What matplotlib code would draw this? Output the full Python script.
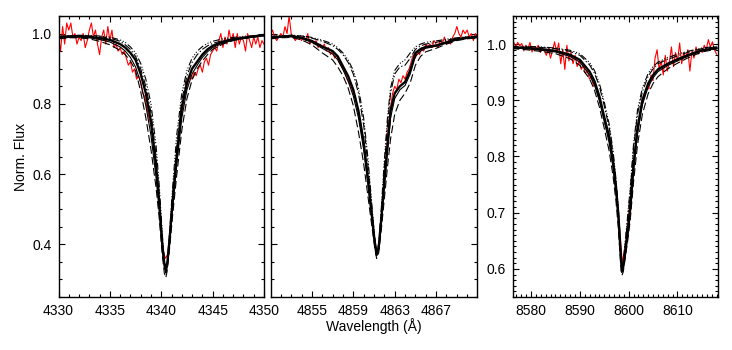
import numpy as np
import matplotlib
matplotlib.use("Agg")
import matplotlib.pyplot as plt
from matplotlib.ticker import MultipleLocator, AutoMinorLocator

plt.rcParams["font.family"] = ["Liberation Sans", "DejaVu Sans"]
plt.rcParams["font.size"] = 10

# ---- H gamma panel ----
hg_wl = [4330, 4331, 4332, 4333, 4334, 4335, 4336, 4336.5, 4337, 4337.5, 4338, 4338.5,
         4339, 4339.5, 4339.8, 4340.1, 4340.3, 4340.45, 4340.6, 4340.8, 4341.1, 4341.5,
         4342, 4342.5, 4343, 4343.5, 4344, 4344.5, 4345, 4346, 4347, 4348, 4349, 4350]
hg_best = [0.990, 0.992, 0.993, 0.991, 0.987, 0.982, 0.970, 0.960, 0.945, 0.925, 0.885, 0.830,
           0.750, 0.620, 0.520, 0.400, 0.345, 0.328, 0.350, 0.410, 0.520, 0.650,
           0.790, 0.860, 0.900, 0.920, 0.940, 0.955, 0.965, 0.977, 0.984, 0.988, 0.992, 0.996]
hg_thin = [0.986, 0.989, 0.990, 0.988, 0.983, 0.976, 0.962, 0.950, 0.932, 0.905, 0.860, 0.795,
           0.710, 0.590, 0.500, 0.385, 0.335, 0.320, 0.340, 0.400, 0.500, 0.625,
           0.760, 0.840, 0.885, 0.910, 0.932, 0.948, 0.960, 0.973, 0.981, 0.986, 0.990, 0.993]
hg_dash = [0.985, 0.988, 0.988, 0.985, 0.978, 0.968, 0.952, 0.940, 0.922, 0.895, 0.835, 0.760,
           0.670, 0.560, 0.475, 0.370, 0.318, 0.305, 0.328, 0.385, 0.480, 0.595,
           0.725, 0.815, 0.868, 0.900, 0.922, 0.940, 0.955, 0.970, 0.980, 0.986, 0.990, 0.994]
hg_dashdot = [0.988, 0.991, 0.993, 0.993, 0.991, 0.987, 0.978, 0.968, 0.955, 0.935, 0.900, 0.850,
              0.775, 0.650, 0.545, 0.410, 0.345, 0.325, 0.345, 0.415, 0.535, 0.675,
              0.810, 0.880, 0.918, 0.940, 0.955, 0.965, 0.972, 0.980, 0.985, 0.989, 0.992, 0.995]
hg_dotted = [0.992, 0.994, 0.995, 0.995, 0.993, 0.990, 0.982, 0.975, 0.962, 0.945, 0.915, 0.870,
             0.800, 0.680, 0.570, 0.430, 0.350, 0.318, 0.345, 0.430, 0.560, 0.710,
             0.830, 0.895, 0.930, 0.950, 0.963, 0.972, 0.978, 0.985, 0.989, 0.992, 0.994, 0.996]
# observed spectrum, 0.2 A sampling from 4330 to 4350
hg_obs = [0.99, 0.95, 1.02, 0.97, 1.03, 1.01, 1.03, 0.99, 1.00, 0.97,
          0.99, 0.98, 1.00, 0.96, 0.98, 1.01, 1.03, 0.99, 1.01, 0.97,
          0.94, 0.99, 1.01, 0.97, 1.02, 0.98, 1.01, 0.96, 0.97, 0.95,
          0.96, 0.94, 0.95, 0.93, 0.91, 0.92, 0.89, 0.90, 0.87, 0.88,
          0.86, 0.83, 0.82, 0.79, 0.76, 0.74, 0.70, 0.65, 0.59, 0.52,
          0.44, 0.38, 0.36, 0.37, 0.42, 0.50, 0.56, 0.62, 0.68, 0.73,
          0.77, 0.81, 0.84, 0.86, 0.88, 0.87, 0.89, 0.88, 0.90, 0.91,
          0.89, 0.92, 0.93, 0.91, 0.94, 0.95, 0.96, 0.95, 0.98, 1.00,
          0.96, 0.99, 0.97, 1.01, 0.98, 1.00, 0.96, 1.00, 0.97, 0.99,
          0.98, 0.95, 1.00, 0.98, 0.96, 0.99, 0.97, 0.99, 0.96, 0.98,
          0.97]

# ---- H beta panel ----
hb_wl = [4851, 4852, 4853, 4854, 4855, 4856, 4856.5, 4857, 4857.5, 4858, 4858.5, 4859,
         4859.5, 4860, 4860.4, 4860.8, 4861.05, 4861.25, 4861.45, 4861.7, 4862.0, 4862.3,
         4862.6, 4863.0, 4863.5, 4864.0, 4864.5, 4865.0, 4865.5, 4866, 4867, 4868, 4869, 4870, 4871]
hb_best = [0.989, 0.991, 0.993, 0.988, 0.979, 0.963, 0.957, 0.950, 0.935, 0.907, 0.879, 0.840,
           0.780, 0.690, 0.590, 0.480, 0.410, 0.370, 0.390, 0.470, 0.580, 0.680,
           0.780, 0.830, 0.850, 0.862, 0.895, 0.945, 0.956, 0.962, 0.966, 0.975, 0.984, 0.988, 0.990]
hb_thin = [0.987, 0.990, 0.991, 0.986, 0.975, 0.958, 0.950, 0.942, 0.925, 0.897, 0.865, 0.822,
           0.760, 0.670, 0.575, 0.470, 0.405, 0.368, 0.385, 0.460, 0.565, 0.665,
           0.760, 0.815, 0.840, 0.852, 0.885, 0.935, 0.950, 0.958, 0.964, 0.973, 0.982, 0.986, 0.989]
hb_dash = [0.985, 0.988, 0.989, 0.982, 0.968, 0.945, 0.935, 0.925, 0.905, 0.880, 0.845, 0.795,
           0.720, 0.630, 0.540, 0.450, 0.395, 0.360, 0.375, 0.440, 0.530, 0.620,
           0.700, 0.770, 0.810, 0.830, 0.860, 0.910, 0.935, 0.948, 0.958, 0.970, 0.980, 0.985, 0.988]
hb_dashdot = [0.990, 0.993, 0.995, 0.993, 0.987, 0.978, 0.972, 0.966, 0.955, 0.940, 0.918, 0.885,
              0.830, 0.740, 0.630, 0.500, 0.420, 0.375, 0.395, 0.490, 0.620, 0.740,
              0.830, 0.885, 0.905, 0.910, 0.930, 0.955, 0.965, 0.970, 0.975, 0.981, 0.987, 0.990, 0.992]
hb_dotted = [0.992, 0.994, 0.995, 0.994, 0.989, 0.981, 0.976, 0.970, 0.960, 0.945, 0.925, 0.895,
             0.845, 0.760, 0.650, 0.510, 0.425, 0.380, 0.400, 0.500, 0.640, 0.760,
             0.845, 0.895, 0.915, 0.925, 0.945, 0.962, 0.970, 0.975, 0.979, 0.984, 0.988, 0.991, 0.993]
# observed spectrum, 0.2 A sampling from 4851 to 4871
hb_obs = [1.00, 1.01, 0.99, 0.98, 0.99, 1.00, 0.99, 1.02, 1.00, 1.05,
          1.00, 0.99, 0.98, 0.99, 0.99, 0.98, 0.99, 0.98, 1.00, 0.97,
          0.98, 0.97, 0.98, 0.96, 0.97, 0.96, 0.97, 0.95, 0.96, 0.94,
          0.95, 0.93, 0.94, 0.92, 0.91, 0.90, 0.89, 0.87, 0.86, 0.85,
          0.83, 0.82, 0.79, 0.76, 0.73, 0.69, 0.64, 0.59, 0.53, 0.48,
          0.43, 0.39, 0.385, 0.43, 0.51, 0.59, 0.66, 0.74, 0.79, 0.83,
          0.85, 0.84, 0.87, 0.86, 0.88, 0.87, 0.89, 0.90, 0.92, 0.94,
          0.93, 0.95, 0.94, 0.96, 0.95, 0.97, 0.96, 0.97, 0.96, 0.98,
          0.97, 0.96, 0.98, 0.97, 0.99, 0.97, 0.98, 0.97, 0.99, 1.00,
          1.02, 1.00, 0.99, 1.01, 1.00, 1.01, 0.99, 1.00, 0.98, 1.00,
          0.99]

# ---- Paschen panel ----
pa_wl = [8576, 8579, 8582, 8585, 8588, 8590, 8592, 8593, 8594, 8595, 8596, 8596.8, 8597.4,
         8597.9, 8598.3, 8598.6, 8598.9, 8599.3, 8599.8, 8600.3, 8601.0, 8601.8, 8602.8,
         8604, 8605, 8606, 8608, 8610, 8612, 8615, 8618]
pa_best = [0.994, 0.993, 0.991, 0.988, 0.981, 0.972, 0.951, 0.934, 0.907, 0.870, 0.835, 0.790, 0.745,
           0.695, 0.635, 0.596, 0.605, 0.630, 0.665, 0.705, 0.785, 0.850, 0.900,
           0.930, 0.945, 0.955, 0.965, 0.973, 0.980, 0.989, 0.993]
pa_thin = [0.993, 0.992, 0.989, 0.986, 0.978, 0.968, 0.945, 0.927, 0.899, 0.862, 0.825, 0.780, 0.735,
           0.685, 0.628, 0.594, 0.602, 0.626, 0.660, 0.698, 0.775, 0.840, 0.892,
           0.924, 0.940, 0.951, 0.962, 0.970, 0.978, 0.988, 0.992]
pa_dash = [0.992, 0.990, 0.987, 0.983, 0.974, 0.962, 0.938, 0.918, 0.888, 0.850, 0.810, 0.765, 0.720,
           0.670, 0.615, 0.588, 0.595, 0.620, 0.650, 0.685, 0.755, 0.820, 0.875,
           0.912, 0.930, 0.942, 0.956, 0.966, 0.975, 0.986, 0.991]
pa_dashdot = [0.995, 0.995, 0.994, 0.992, 0.987, 0.980, 0.963, 0.948, 0.925, 0.890, 0.852, 0.805, 0.755,
              0.700, 0.640, 0.600, 0.612, 0.645, 0.690, 0.735, 0.815, 0.875, 0.915,
              0.943, 0.956, 0.965, 0.973, 0.979, 0.985, 0.992, 0.995]
pa_dotted = [0.996, 0.996, 0.995, 0.993, 0.989, 0.983, 0.967, 0.953, 0.930, 0.897, 0.858, 0.810, 0.760,
             0.705, 0.645, 0.603, 0.615, 0.650, 0.695, 0.742, 0.822, 0.882, 0.922,
             0.948, 0.960, 0.968, 0.976, 0.982, 0.987, 0.993, 0.996]
# observed spectrum, 0.42 A sampling from 8576 to 8618
pa_obs = [1.000, 1.004, 0.995, 1.003, 0.997, 1.001, 0.988, 0.998, 0.992, 1.003,
          0.986, 0.995, 0.990, 0.998, 0.985, 0.993, 0.988, 0.980, 0.992, 0.975,
          0.988, 1.004, 0.985, 1.002, 0.965, 0.990, 0.955, 0.998, 0.970, 0.985,
          0.965, 0.980, 0.960, 0.970, 0.955, 0.962, 0.948, 0.952, 0.938, 0.942,
          0.925, 0.928, 0.910, 0.900, 0.885, 0.872, 0.858, 0.845, 0.830, 0.805,
          0.775, 0.745, 0.710, 0.660, 0.612, 0.630, 0.655, 0.690, 0.725, 0.765,
          0.800, 0.832, 0.855, 0.880, 0.895, 0.910, 0.925, 0.920, 0.945, 0.935,
          0.975, 0.990, 0.955, 0.970, 0.945, 0.980, 0.952, 0.968, 0.995, 0.960,
          0.985, 0.970, 1.002, 0.965, 0.985, 0.975, 0.990, 0.952, 0.988, 0.975,
          0.995, 0.982, 0.990, 0.985, 0.998, 0.990, 1.008, 0.995, 1.004, 0.990,
          0.982]

panels = [
    dict(wl=hg_wl, models=[hg_thin, hg_dash, hg_dashdot, hg_dotted, hg_best], obs=hg_obs,
         obs_range=(4330, 4350), xlim=(4330, 4350), ylim=(0.25, 1.05),
         xmajor=5, xoff=0, xminor=5, ymajor=0.2, yminor=4, left=58.5, right=264),
    dict(wl=hb_wl, models=[hb_thin, hb_dash, hb_dashdot, hb_dotted, hb_best], obs=hb_obs,
         obs_range=(4851, 4871), xlim=(4851.05, 4870.95), ylim=(0.25, 1.05),
         xmajor=4, xoff=3, xminor=4, ymajor=0.2, yminor=4, left=271, right=477),
    dict(wl=pa_wl, models=[pa_thin, pa_dash, pa_dashdot, pa_dotted, pa_best], obs=pa_obs,
         obs_range=(8576, 8618), xlim=(8576.3, 8618.3), ylim=(0.55, 1.05),
         xmajor=10, xoff=0, xminor=10, ymajor=0.1, yminor=10, left=513, right=718),
]

styles = [
    dict(ls="-", lw=0.8),
    dict(ls=(0, (7, 3)), lw=0.8),
    dict(ls=(0, (7, 2, 1.2, 2)), lw=0.8),
    dict(ls=(0, (6, 2, 1, 1.5, 1, 1.5, 1, 2)), lw=0.8),
    dict(ls="-", lw=1.7),
]

W, H = 732, 350
fig = plt.figure(figsize=(W / 100, H / 100), dpi=100)

axes = []
for i, p in enumerate(panels):
    ax = fig.add_axes([p["left"] / W, (H - 297) / H, (p["right"] - p["left"]) / W, (297 - 16) / H])
    x_obs = np.linspace(p["obs_range"][0], p["obs_range"][1], len(p["obs"]))
    ax.plot(x_obs, p["obs"], color="red", lw=0.8)
    for m, st in zip(p["models"], styles):
        ax.plot(p["wl"], m, color="black", **st)
    ax.set_xlim(*p["xlim"])
    ax.set_ylim(*p["ylim"])
    ax.xaxis.set_major_locator(MultipleLocator(p["xmajor"], offset=p["xoff"]))
    ax.xaxis.set_minor_locator(AutoMinorLocator(p["xminor"]))
    ax.yaxis.set_major_locator(MultipleLocator(p["ymajor"]))
    ax.yaxis.set_minor_locator(AutoMinorLocator(p["yminor"]))
    ax.tick_params(which="both", direction="in", top=True, right=True, width=0.8)
    ax.tick_params(which="major", length=4, labelsize=10, pad=5)
    ax.tick_params(which="minor", length=2)
    ax.xaxis.set_major_formatter(plt.FormatStrFormatter("%d"))
    ax.yaxis.set_major_formatter(plt.FormatStrFormatter("%.1f"))
    for s in ax.spines.values():
        s.set_linewidth(1.0)
    axes.append(ax)

axes[1].tick_params(labelleft=False)
axes[0].set_ylabel("Norm. Flux", fontsize=10, labelpad=3)
axes[1].set_xlabel("Wavelength (Å)", fontsize=10, labelpad=0)

fig.savefig("out.png", dpi=100)
